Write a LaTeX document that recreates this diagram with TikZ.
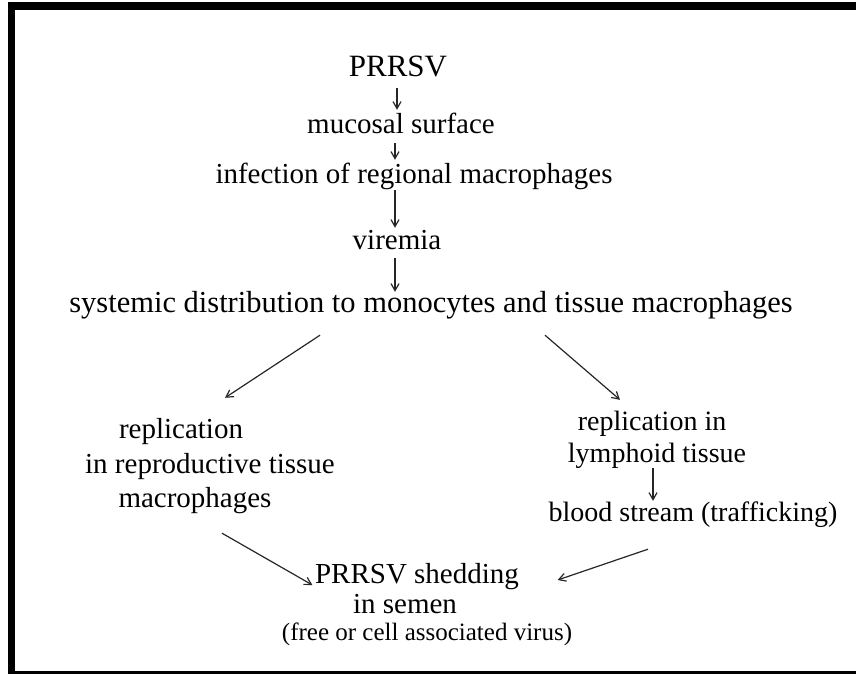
\documentclass[tikz,border=0pt]{standalone}
\usepackage{fontspec}
\setmainfont{Liberation Serif}
\usetikzlibrary{arrows.meta}
\tikzset{
  txt/.style={inner sep=0pt, text height=20pt, text depth=6pt, anchor=base, text=black, font=\fontsize{29}{31}\selectfont},
  txtr/.style={txt, font=\fontsize{28}{30}\selectfont},
  arr/.style={draw=black!85, line width=1.2pt, -{Straight Barb[length=7pt,width=8pt,line width=1.2pt]}},
  framebar/.style={fill=black}
}
\begin{document}
\begin{tikzpicture}[x=1pt,y=-1pt]
\useasboundingbox (0,0) rectangle (856,674);
% frame
\fill[framebar] (8,2) rectangle (856,10);
\fill[framebar] (8,2) rectangle (15,674);
\fill[framebar] (8,671) rectangle (856,674);

% nodes
\node[txt, font=\fontsize{31}{33}\selectfont] (prrsv) at (398,77) {PRRSV};
\node[txt] (mucosal) at (401,134) {mucosal surface};
\node[txt] (infection) at (414,183) {infection of regional macrophages};
\node[txt] (viremia) at (397,249) {viremia};
\node[txt, font=\fontsize{30.5}{32}\selectfont] (sys) at (431,312) {systemic distribution to monocytes and tissue macrophages};

\node[txt] (rep1) at (181,438) {replication};
\node[txt] (rep2) at (210,473) {in reproductive tissue};
\node[txt] (rep3) at (195,507) {macrophages};

\node[txtr] (rin1) at (652,430) {replication in};
\node[txtr] (rin2) at (657,462) {lymphoid tissue};
\node[txtr] (blood) at (693,521) {blood stream (trafficking)};

\node[txt] (shed1) at (417,583) {PRRSV shedding};
\node[txt] (shed2) at (405,613) {in semen};
\node[txt, font=\fontsize{25}{27}\selectfont] (shed3) at (427,640) {(free or cell associated virus)};

% vertical arrows
\draw[arr, shorten <=5pt, shorten >=4pt] ([xshift=-1pt]prrsv.south) -- ([xshift=-1pt]prrsv.south |- mucosal.north);
\draw[arr, shorten <=3pt, shorten >=3pt] ([xshift=-6pt]mucosal.south) -- ([xshift=-6pt]mucosal.south |- infection.north);
\draw[arr, shorten <=1pt, shorten >=1pt] ([xshift=-19pt]infection.south) -- ([xshift=-19pt]infection.south |- viremia.north);
\draw[arr, shorten <=3pt, shorten >=0pt] ([xshift=-2pt]viremia.south) -- ([xshift=-2pt]viremia.south |- sys.north);

% diagonal arrows
\draw[arr] ([xshift=-111pt,yshift=-17pt]sys.south) -- ([xshift=44pt,yshift=20pt]rep1.north);
\draw[arr] ([xshift=114pt,yshift=-17pt]sys.south) -- ([xshift=-32pt,yshift=10pt]rin1.north);
\draw[arr] ([xshift=-4pt]rin2.south) -- ([xshift=-4pt]rin2.south |- blood.north);
\draw[arr] ([xshift=27pt,yshift=-20pt]rep3.south) -- ([xshift=-2.5pt,yshift=-2pt]shed1.base west);
\draw[arr] ([xshift=-45pt,yshift=-22pt]blood.south) -- ([xshift=38.5pt,yshift=3pt]shed1.base east);
\end{tikzpicture}
\end{document}
